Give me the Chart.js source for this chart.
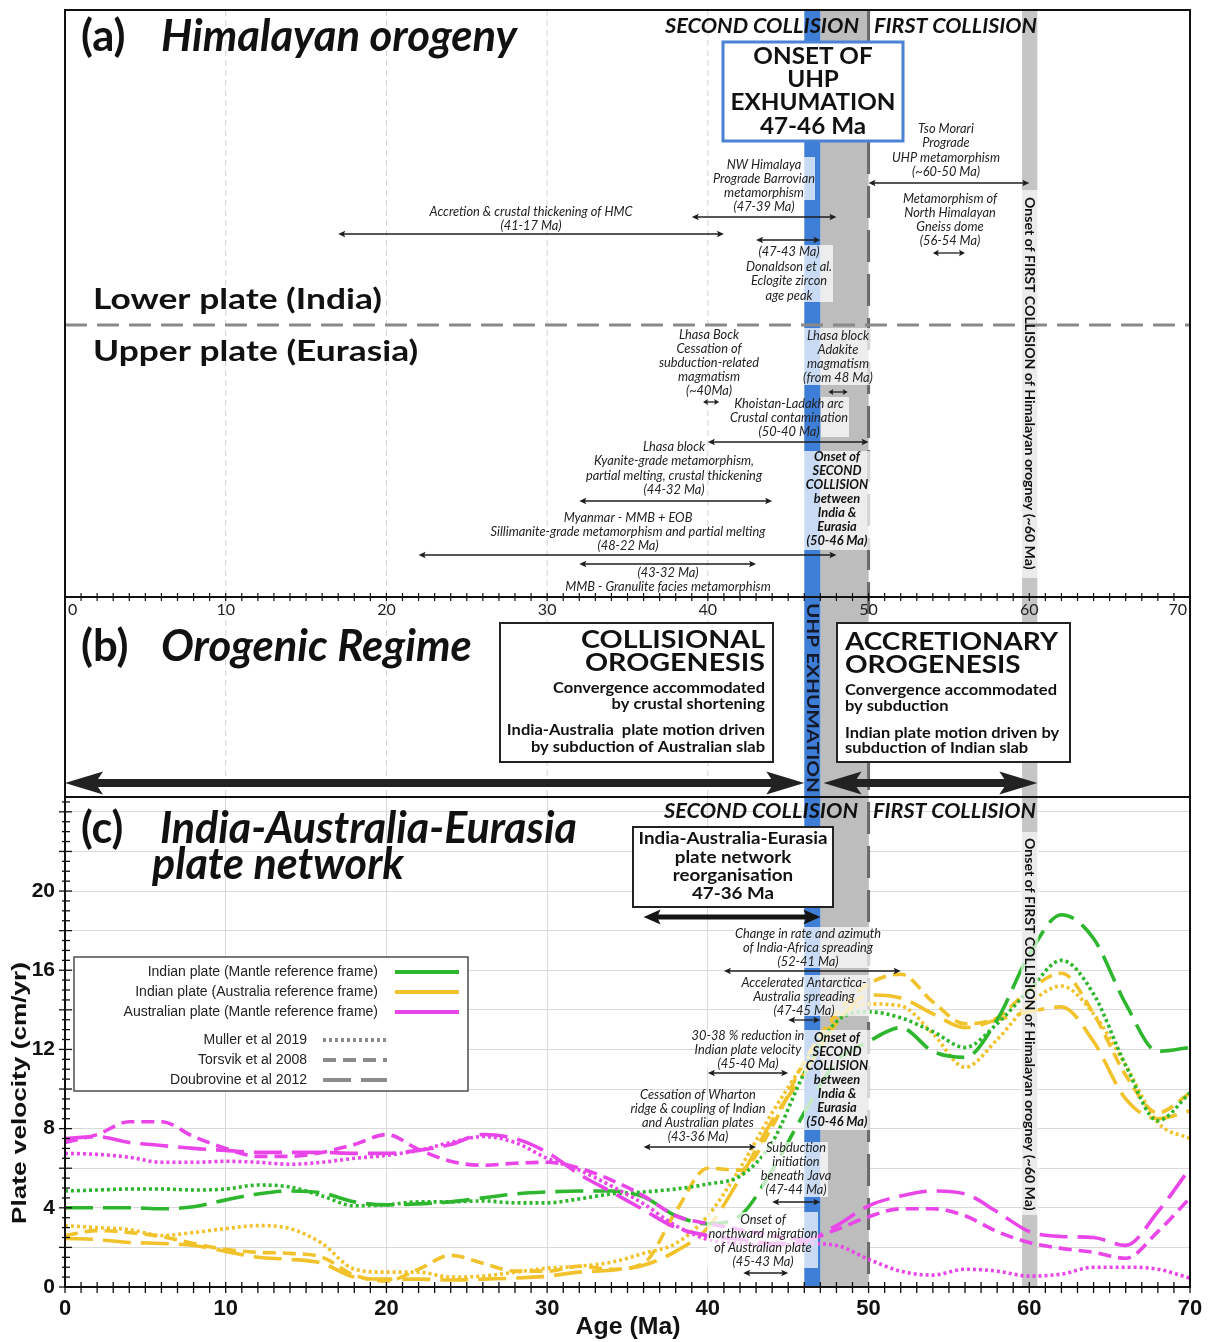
<!DOCTYPE html>
<html>
<head>
<meta charset="utf-8">
<title>Himalayan orogeny and India-Australia-Eurasia plate velocities</title>
<script src="https://cdn.jsdelivr.net/npm/chart.js@4.4.1/dist/chart.umd.min.js"></script>
<style>
  html, body { margin: 0; padding: 0; background: #fff; }
  canvas { display: block; }
</style>
</head>
<body>
<canvas id="fig" width="1212" height="1342"></canvas>
<script>
// Age grid (Ma) shared by every velocity curve
const ages = [0,2,4,6,8,10,12,14,16,18,20,22,24,26,28,30,32,34,36,38,40,42,44,46,48,50,52,54,56,58,60,62,64,66,68,70];

// Indian plate, mantle reference frame (cm/yr)
const indiaMantleMuller =     [4.85,4.9,4.95,4.95,4.9,4.95,5.15,5.05,4.6,4.1, 4.15,4.3,4.3,4.35,4.25,4.25,4.45,4.7,4.8,4.95, 5.2,5.6,7.3,10.8,13.4,13.9,13.6,12.9,12.1,13.3, 15.0,16.5,14.8,11.2,8.4,9.8];
const indiaMantleDoubrovine = [4.0,4.0,4.0,3.95,4.05,4.4,4.7,4.85,4.75,4.3, 4.15,4.2,4.3,4.5,4.7,4.8,4.85,4.85,4.55,3.6, 3.2,3.6,5.9,8.8,11.4,12.4,13.1,11.9,11.6,13.5, 16.8,18.8,17.6,14.3,11.9,12.1];

// Indian plate, Australia reference frame (cm/yr)
const indiaAustraliaMuller =     [3.1,3.0,2.9,2.6,2.75,2.95,3.1,2.95,2.2,0.9, 0.75,0.75,0.5,0.55,0.75,0.95,1.05,1.25,1.7,2.2, 3.6,6.0,8.8,11.3,13.5,14.3,14.2,12.8,11.1,12.5, 14.3,15.2,13.8,11.2,8.3,7.5];
const indiaAustraliaTorsvik =    [2.6,2.85,2.75,2.55,2.2,1.9,1.75,1.7,1.5,0.6, 0.3,0.9,1.6,1.2,0.8,0.8,1.05,0.9,1.2,3.8, 6.0,5.9,8.1,11.4,13.8,15.3,15.8,14.4,13.3,13.6, 15.0,15.85,13.8,10.7,8.8,9.8];
const indiaAustraliaDoubrovine = [2.45,2.4,2.25,2.2,2.1,1.8,1.5,1.4,1.2,0.5, 0.4,0.4,0.35,0.4,0.45,0.55,0.75,0.85,1.1,1.8, 3.0,5.5,8.4,10.8,13.3,14.75,14.6,13.8,13.1,13.5, 13.9,14.15,12.4,9.5,8.5,8.9];

// Australian plate, mantle reference frame (cm/yr)
const australiaMantleMuller =     [6.75,6.7,6.55,6.3,6.3,6.35,6.3,6.2,6.3,6.5, 6.65,6.9,7.3,7.6,7.3,6.5,5.9,5.1,4.2,3.1, 2.4,2.2,2.1,2.2,2.1,1.4,0.8,0.6,0.9,0.8, 0.55,0.65,1.0,1.0,0.9,0.45];
const australiaMantleTorsvik =    [7.3,7.7,8.35,8.35,7.6,7.0,6.6,6.6,6.8,7.2, 7.7,6.95,6.35,6.15,6.25,6.3,6.0,5.4,4.6,3.6, 3.2,2.9,2.6,2.4,2.9,3.55,3.95,3.95,3.6,2.8, 2.25,1.95,1.75,1.45,2.8,4.5];
const australiaMantleDoubrovine = [7.5,7.6,7.3,7.15,7.0,6.9,6.8,6.8,6.8,6.75, 6.75,6.9,7.2,7.7,7.5,6.8,5.7,4.8,3.9,3.0, 2.6,2.4,2.2,2.3,3.1,4.1,4.6,4.85,4.7,3.8, 2.8,2.55,2.5,2.1,3.8,6.0];

// Axis labels
const velocityTicks = [0,4,8,12,16,20];
const ageTicks = [0,10,20,30,40,50,60,70];

// Event age ranges (Ma)
const uhpExhumation = [46,47];
const secondCollision = [47,50];
const firstCollision = [59.55,60.5];

const GREEN = '#2fb62f', YELLOW = '#f1c22b', MAGENTA = '#e945e9', GREY_KEY = '#8c8c8c';
const DOT = [3,3], DASH = [13,7], LONGDASH = [28,10];
const SANS = '"Liberation Sans", Arial, sans-serif';
const HUMAN = 'Lato, "Open Sans", sans-serif';

function curve(label, values, color, dash) {
  return {
    label,
    data: ages.map((a, i) => ({ x: a, y: values[i] })),
    borderColor: color,
    borderDash: dash,
    borderWidth: 3.6,
    borderCapStyle: 'butt',
    pointRadius: 0,
    fill: false,
    cubicInterpolationMode: 'monotone'
  };
}

const datasets = [
  curve('Australian plate (Mantle) - Muller et al 2019', australiaMantleMuller, MAGENTA, DOT),
  curve('Australian plate (Mantle) - Torsvik et al 2008', australiaMantleTorsvik, MAGENTA, DASH),
  curve('Australian plate (Mantle) - Doubrovine et al 2012', australiaMantleDoubrovine, MAGENTA, LONGDASH),
  curve('Indian plate (Mantle) - Muller et al 2019', indiaMantleMuller, GREEN, DOT),
  curve('Indian plate (Mantle) - Doubrovine et al 2012', indiaMantleDoubrovine, GREEN, LONGDASH),
  curve('Indian plate (Australia) - Muller et al 2019', indiaAustraliaMuller, YELLOW, DOT),
  curve('Indian plate (Australia) - Torsvik et al 2008', indiaAustraliaTorsvik, YELLOW, DASH),
  curve('Indian plate (Australia) - Doubrovine et al 2012', indiaAustraliaDoubrovine, YELLOW, LONGDASH)
];

// ---------- drawing helpers ----------
function fitSize(ctx, s, width, style, family) {
  ctx.font = `${style} 100px ${family}`;
  return 100 * width / ctx.measureText(s).width;
}
// horizontal stretch that makes a string span a given width at a given size
function stretch(ctx, s, width, style, size, family = HUMAN) {
  ctx.font = `${style} ${size}px ${family}`;
  return width / ctx.measureText(s).width;
}
function text(ctx, s, x, y, o = {}) {
  const style = o.style || 'italic';
  const family = o.family || HUMAN;
  const size = o.size || 12;
  let sx = o.sx || 1;
  if (o.fit) sx = stretch(ctx, s, o.fit, style, size, family);
  ctx.save();
  ctx.font = `${style} ${size}px ${family}`;
  ctx.fillStyle = o.color || '#1e1e1e';
  ctx.textAlign = o.align || 'center';
  ctx.textBaseline = 'middle';
  ctx.translate(x, y);
  if (o.rotate) ctx.rotate(o.rotate);
  ctx.scale(sx, 1);
  ctx.fillText(s, 0, 0);
  ctx.restore();
}
function block(ctx, lines, x, y0, lh, o = {}) {
  lines.forEach((s, i) => text(ctx, s, x, y0 + i * lh, o));
}
function arrow(ctx, x0, x1, y, o = {}) {
  const w = o.w || 1.3, head = o.head || 7, half = o.half || 3.2, col = o.color || '#1e1e1e';
  ctx.save();
  ctx.strokeStyle = col; ctx.fillStyle = col; ctx.lineWidth = w; ctx.setLineDash([]);
  ctx.beginPath(); ctx.moveTo(x0 + head * 0.6, y); ctx.lineTo(x1 - head * 0.6, y); ctx.stroke();
  ctx.beginPath();
  ctx.moveTo(x0, y); ctx.lineTo(x0 + head, y - half); ctx.lineTo(x0 + head * 0.8, y); ctx.lineTo(x0 + head, y + half); ctx.closePath();
  ctx.moveTo(x1, y); ctx.lineTo(x1 - head, y - half); ctx.lineTo(x1 - head * 0.8, y); ctx.lineTo(x1 - head, y + half); ctx.closePath();
  ctx.fill();
  ctx.restore();
}
function veil(ctx, x0, y0, x1, y1, a = 0.72) {
  ctx.save(); ctx.fillStyle = `rgba(255,255,255,${a})`; ctx.fillRect(x0, y0, x1 - x0, y1 - y0); ctx.restore();
}
function box(ctx, x0, y0, x1, y1, stroke, lw) {
  ctx.save();
  ctx.fillStyle = '#fff'; ctx.fillRect(x0, y0, x1 - x0, y1 - y0);
  ctx.strokeStyle = stroke; ctx.lineWidth = lw; ctx.setLineDash([]);
  ctx.strokeRect(x0, y0, x1 - x0, y1 - y0);
  ctx.restore();
}

const TOP = 10, AXIS_A = 597, SEP_BC = 797;

const figurePlugin = {
  id: 'figure',
  beforeDatasetsDraw(chart) {
    const ctx = chart.ctx, xs = chart.scales.x, X = v => xs.getPixelForValue(v);
    const bot = chart.chartArea.bottom;
    ctx.save();
    // faint dashed age guides in panels (a) and (b)
    ctx.strokeStyle = '#d2d2d2'; ctx.lineWidth = 1; ctx.setLineDash([6, 4]);
    [10, 20, 30, 40].forEach(a => {
      ctx.beginPath(); ctx.moveTo(X(a), TOP); ctx.lineTo(X(a), SEP_BC); ctx.stroke();
    });
    ctx.setLineDash([]);
    // event bands through all panels
    ctx.fillStyle = '#bdbdbd';
    ctx.fillRect(X(secondCollision[0]), TOP, X(secondCollision[1]) - X(secondCollision[0]), bot - TOP);
    ctx.fillStyle = '#c5c5c5';
    ctx.fillRect(X(firstCollision[0]), TOP, X(firstCollision[1]) - X(firstCollision[0]), bot - TOP);
    ctx.fillStyle = '#3f7ed6';
    ctx.fillRect(X(uhpExhumation[0]), TOP, X(uhpExhumation[1]) - X(uhpExhumation[0]), bot - TOP);
    // dashed marker at 50 Ma
    ctx.strokeStyle = '#6a6a6a'; ctx.lineWidth = 3; ctx.setLineDash([32, 12]);
    ctx.beginPath(); ctx.moveTo(X(50), TOP); ctx.lineTo(X(50), bot); ctx.stroke();
    ctx.restore();
  },
  afterDatasetsDraw(chart) {
    const ctx = chart.ctx, xs = chart.scales.x, ys = chart.scales.y;
    const X = v => xs.getPixelForValue(v);
    const L = chart.chartArea.left, R = chart.chartArea.right, B = chart.chartArea.bottom;

    // ---------- text backdrops ----------
    [[713,157,815,200],[743,245,833,302],[803,328,870,385],[821,397,849,437],[804,451,870,550],
     [733,927,870,968],[760,975,870,1016],[700,1029,804,1068],[804,1030,870,1130],
     [762,1142,828,1197],[707,1212,818,1268]].forEach(r => veil(ctx, ...r));
    veil(ctx, X(firstCollision[0]) - 1, 190, X(firstCollision[1]) + 1, 578, 0.65);
    veil(ctx, X(firstCollision[0]) - 1, 832, X(firstCollision[1]) + 1, 1215, 0.65);

    // ---------- panel (a) ----------
    const titleSize = fitSize(ctx, 'Himalayan orogeny', 356, 'italic bold', HUMAN);
    text(ctx, '(a)', 81, 37, { style: 'bold', size: titleSize, align: 'left', color: '#111' });
    text(ctx, 'Himalayan orogeny', 161, 37, { style: 'italic bold', size: titleSize, align: 'left', color: '#111' });

    const hdr = { style: 'italic bold', size: 20, align: 'left', color: '#111' };
    text(ctx, 'SECOND COLLISION', 665, 27, { ...hdr, fit: 194 });
    text(ctx, 'FIRST COLLISION', 874, 27, { ...hdr, fit: 163 });

    box(ctx, 723, 42, 903, 141, '#4a82d4', 3);
    const uhpSx = stretch(ctx, 'EXHUMATION', 165, 'bold', 22);
    const uhpFont = { style: 'bold', size: 22, sx: uhpSx, color: '#111' };
    block(ctx, ['ONSET OF', 'UHP', 'EXHUMATION'], 813, 57, 23, uhpFont);
    text(ctx, '47-46 Ma', 813, 127, uhpFont);

    const note = { style: 'italic', size: 12.8, color: '#222' };
    block(ctx, ['Tso Morari', 'Prograde', 'UHP metamorphism', '(~60-50 Ma)'], 946, 129, 14.3, note);
    arrow(ctx, X(50), X(60), 183);
    block(ctx, ['NW Himalaya', 'Prograde Barrovian', 'metamorphism', '(47-39 Ma)'], 764, 165, 14, note);
    arrow(ctx, X(39), X(48), 217);
    block(ctx, ['Accretion & crustal thickening of HMC', '(41-17 Ma)'], 531, 212, 14, note);
    arrow(ctx, X(17), X(41), 234);
    arrow(ctx, X(43), X(47), 240);
    block(ctx, ['(47-43 Ma)', 'Donaldson et al.', 'Eclogite zircon', 'age peak'], 789, 252, 14.5, note);
    block(ctx, ['Metamorphism of', 'North Himalayan', 'Gneiss dome', '(56-54 Ma)'], 950, 199, 14, note);
    arrow(ctx, X(54), X(56), 253, { head: 6 });

    const plateSx = stretch(ctx, 'Lower plate (India)', 289, 'bold', 29);
    text(ctx, 'Lower plate (India)', 93, 300, { style: 'bold', size: 29, sx: plateSx, align: 'left', color: '#111' });
    text(ctx, 'Upper plate (Eurasia)', 93, 352, { style: 'bold', size: 29, sx: plateSx, align: 'left', color: '#111' });
    ctx.save();
    ctx.strokeStyle = '#8a8a8a'; ctx.lineWidth = 3; ctx.setLineDash([22, 10]);
    ctx.beginPath(); ctx.moveTo(L, 325); ctx.lineTo(R, 325); ctx.stroke();
    ctx.restore();

    block(ctx, ['Lhasa Bock', 'Cessation of', 'subduction-related', 'magmatism', '(~40Ma)'], 709, 335, 14, note);
    arrow(ctx, X(39.7), X(40.7), 402, { head: 5, half: 3 });
    block(ctx, ['Lhasa block', 'Adakite', 'magmatism', '(from 48 Ma)'], 838, 336, 14, note);
    arrow(ctx, X(47.5), X(48.7), 392, { head: 5, half: 3 });
    block(ctx, ['Khoistan-Ladakh arc', 'Crustal contamination', '(50-40 Ma)'], 789, 404, 14, note);
    arrow(ctx, X(40), X(50), 442);
    block(ctx, ['Lhasa block', 'Kyanite-grade metamorphism,', 'partial melting, crustal thickening', '(44-32 Ma)'], 674, 447, 14.3, note);
    arrow(ctx, X(32), X(44), 501);
    block(ctx, ['Myanmar - MMB + EOB', 'Sillimanite-grade metamorphism and partial melting', '(48-22 Ma)'], 628, 518, 14, note);
    arrow(ctx, X(22), X(48), 555);
    arrow(ctx, X(32), X(43), 564);
    block(ctx, ['(43-32 Ma)', 'MMB - Granulite facies metamorphism'], 668, 573, 14, note);

    const onset = { style: 'italic bold', size: 12.8, color: '#111' };
    const onsetLines = ['Onset of', 'SECOND', 'COLLISION', 'between', 'India &', 'Eurasia', '(50-46 Ma)'];
    block(ctx, onsetLines, 837, 457, 14, onset);

    const vert = { style: 'bold', size: 13, align: 'left', color: '#111', rotate: Math.PI / 2 };
    const first60 = 'Onset of FIRST COLLISION of Himalayan orogney (~60 Ma)';
    const vSize = fitSize(ctx, first60, 373, 'bold', HUMAN);
    text(ctx, first60, (X(firstCollision[0]) + X(firstCollision[1])) / 2, 197, { ...vert, size: vSize });

    // axis of panel (a)
    ctx.save();
    ctx.strokeStyle = '#111'; ctx.lineWidth = 1.2; ctx.setLineDash([]);
    for (let a = 0; a <= 70; a++) {
      ctx.beginPath(); ctx.moveTo(X(a), AXIS_A - 4); ctx.lineTo(X(a), AXIS_A + 4); ctx.stroke();
    }
    ctx.restore();
    ageTicks.forEach(a => {
      const align = a === 0 ? 'left' : (a === 70 ? 'right' : 'center');
      const x = a === 0 ? X(a) + 3 : (a === 70 ? X(a) - 3 : X(a));
      text(ctx, String(a), x, 610, { style: 'normal', size: 16, align, color: '#222' });
    });

    // ---------- panel (b) ----------
    text(ctx, '(b)', 81, 647, { style: 'bold', size: titleSize, align: 'left', color: '#111' });
    text(ctx, 'Orogenic Regime', 161, 647, { style: 'italic bold', size: titleSize, align: 'left', color: '#111' });

    box(ctx, 500, 623, 773, 762, '#222', 2);
    const colSx = stretch(ctx, 'COLLISIONAL', 184, 'bold', 24);
    text(ctx, 'COLLISIONAL', 765, 640, { style: 'bold', size: 24, sx: colSx, align: 'right', color: '#111' });
    text(ctx, 'OROGENESIS', 765, 663, { style: 'bold', size: 24, sx: colSx, align: 'right', color: '#111' });
    const subSx = stretch(ctx, 'Convergence accommodated', 212, 'bold', 14.5);
    const sub = { style: 'bold', size: 14.5, sx: subSx, align: 'right', color: '#111' };
    text(ctx, 'Convergence accommodated', 765, 688, sub);
    text(ctx, 'by crustal shortening', 765, 704, sub);
    text(ctx, 'India-Australia  plate motion driven', 765, 730, sub);
    text(ctx, 'by subduction of Australian slab', 765, 747, sub);

    box(ctx, 837, 623, 1070, 762, '#222', 2);
    const accSx = stretch(ctx, 'ACCRETIONARY', 213, 'bold', 24);
    text(ctx, 'ACCRETIONARY', 845, 642, { style: 'bold', size: 24, sx: accSx, align: 'left', color: '#111' });
    text(ctx, 'OROGENESIS', 845, 665, { style: 'bold', size: 24, sx: accSx, align: 'left', color: '#111' });
    const sub2 = { ...sub, align: 'left' };
    text(ctx, 'Convergence accommodated', 845, 690, sub2);
    text(ctx, 'by subduction', 845, 706, sub2);
    text(ctx, 'Indian plate motion driven by', 845, 733, sub2);
    text(ctx, 'subduction of Indian slab', 845, 748, sub2);

    const bigArrow = { w: 8, head: 38, half: 11.5, color: '#222' };
    arrow(ctx, X(0), X(46), 783, bigArrow);
    arrow(ctx, X(47.2), X(60.5), 783, bigArrow);

    text(ctx, 'UHP EXHUMATION', (X(46) + X(47)) / 2, 603, { ...vert, size: 17, fit: 190, color: '#151a2a' });

    // ---------- panel (c) ----------
    const cSize = fitSize(ctx, 'India-Australia-Eurasia', 417, 'italic bold', HUMAN);
    text(ctx, '(c)', 81, 829, { style: 'bold', size: cSize, align: 'left', color: '#111' });
    text(ctx, 'India-Australia-Eurasia', 160, 829, { style: 'italic bold', size: cSize, align: 'left', color: '#111' });
    text(ctx, 'plate network', 152, 865, { style: 'italic bold', size: cSize, align: 'left', color: '#111' });

    text(ctx, 'SECOND COLLISION', 664, 812, { ...hdr, fit: 194 });
    text(ctx, 'FIRST COLLISION', 873, 812, { ...hdr, fit: 163 });

    box(ctx, 633, 827, 833, 907, '#222', 2);
    const reSx = stretch(ctx, 'India-Australia-Eurasia', 189, 'bold', 17);
    block(ctx, ['India-Australia-Eurasia', 'plate network', 'reorganisation', '47-36 Ma'], 733, 839, 18.3, { style: 'bold', size: 17, sx: reSx, color: '#111' });
    arrow(ctx, X(36), X(47), 917, { w: 5, head: 17, half: 7.5, color: '#151515' });

    block(ctx, ['Change in rate and azimuth', 'of India-Africa spreading', '(52-41 Ma)'], 808, 934, 14, note);
    arrow(ctx, X(41), X(52), 971);
    block(ctx, ['Accelerated Antarctica-', 'Australia spreading', '(47-45 Ma)'], 804, 983, 14, note);
    arrow(ctx, X(45), X(47), 1020);
    block(ctx, ['30-38 % reduction in', 'Indian plate velocity', '(45-40 Ma)'], 748, 1036, 13.7, note);
    arrow(ctx, X(40), X(45), 1073);
    block(ctx, onsetLines, 837, 1038, 14, onset);
    block(ctx, ['Cessation of Wharton', 'ridge & coupling of Indian', 'and Australian plates', '(43-36 Ma)'], 698, 1095, 13.8, note);
    arrow(ctx, X(36), X(43), 1147);
    block(ctx, ['Subduction', 'initiation', 'beneath Java', '(47-44 Ma)'], 796, 1148, 14, note);
    arrow(ctx, X(44), X(47), 1202);
    block(ctx, ['Onset of', 'northward migration', 'of Australian plate', '(45-43 Ma)'], 763, 1220, 14, note);
    arrow(ctx, X(42.2), X(45), 1273);

    text(ctx, first60, (X(firstCollision[0]) + X(firstCollision[1])) / 2, 838, { ...vert, size: vSize });

    // legend
    box(ctx, 74, 957, 468, 1091, '#333', 1.3);
    const keyFont = { style: 'normal', family: SANS, size: 14, align: 'right', color: '#222' };
    [['Indian plate (Mantle reference frame)', GREEN], ['Indian plate (Australia reference frame)', YELLOW], ['Australian plate (Mantle reference frame)', MAGENTA]]
      .forEach(([s, c], i) => {
        const y = 972 + i * 20;
        text(ctx, s, 378, y, keyFont);
        ctx.save(); ctx.strokeStyle = c; ctx.lineWidth = 4; ctx.setLineDash([]);
        ctx.beginPath(); ctx.moveTo(395, y); ctx.lineTo(459, y); ctx.stroke(); ctx.restore();
      });
    [['Muller et al 2019', DOT], ['Torsvik et al 2008', DASH], ['Doubrovine et al 2012', LONGDASH]]
      .forEach(([s, d], i) => {
        const y = 1040 + i * 20;
        text(ctx, s, 307, y, keyFont);
        ctx.save(); ctx.strokeStyle = GREY_KEY; ctx.lineWidth = 4; ctx.setLineDash(d);
        ctx.beginPath(); ctx.moveTo(323, y); ctx.lineTo(387, y); ctx.stroke(); ctx.restore();
      });

    // axis ticks of panel (c)
    ctx.save();
    ctx.strokeStyle = '#111'; ctx.lineWidth = 1.3; ctx.setLineDash([]);
    for (let a = 0; a <= 70; a++) {
      ctx.beginPath(); ctx.moveTo(X(a), B - 5); ctx.lineTo(X(a), B + 6); ctx.stroke();
    }
    for (let v = 0; v <= 24.5; v += 0.5) {
      const y = ys.getPixelForValue(v);
      const major = v % 2 === 0;
      ctx.beginPath(); ctx.moveTo(L - (major ? 6 : 3), y); ctx.lineTo(L + (major ? 7 : 5), y); ctx.stroke();
    }
    ctx.restore();

    text(ctx, 'Plate velocity (cm/yr)', 20, 1093, { style: 'bold', family: SANS, size: 20, fit: 262, color: '#111', rotate: -Math.PI / 2 });
    text(ctx, 'Age (Ma)', 628, 1328, { style: 'bold', family: SANS, size: 23, fit: 105, color: '#111' });

    // frame and panel separators
    ctx.save();
    ctx.strokeStyle = '#111'; ctx.lineWidth = 2; ctx.setLineDash([]);
    ctx.strokeRect(L, TOP, R - L, B - TOP);
    ctx.beginPath(); ctx.moveTo(L, AXIS_A); ctx.lineTo(R, AXIS_A); ctx.stroke();
    ctx.beginPath(); ctx.moveTo(L, SEP_BC); ctx.lineTo(R, SEP_BC); ctx.stroke();
    ctx.restore();
  }
};

new Chart(document.getElementById('fig'), {
  type: 'line',
  data: { datasets },
  options: {
    responsive: false,
    animation: false,
    devicePixelRatio: 1,
    layout: { padding: { top: SEP_BC, right: 22, left: 0, bottom: 0 } },
    plugins: { legend: { display: false }, tooltip: { enabled: false } },
    scales: {
      x: {
        type: 'linear', min: 0, max: 70,
        afterFit(s) { s.height = 55; },
        afterBuildTicks(s) { s.ticks = ageTicks.map(v => ({ value: v })); },
        ticks: { autoSkip: false, maxRotation: 0, padding: 9, color: '#111',
                 font: { family: SANS, weight: 'bold', size: 22 } },
        grid: { color: '#d9d9d9', lineWidth: 1, drawTicks: false },
        border: { display: true, color: '#111', width: 2 }
      },
      y: {
        min: 0, max: 24.75,
        afterFit(s) { s.width = 65; },
        afterBuildTicks(s) {
          const t = [];
          for (let v = 0; v <= 24; v += 2) t.push({ value: v });
          s.ticks = t;
        },
        ticks: { autoSkip: false, padding: 10, color: '#111',
                 callback: v => velocityTicks.includes(v) ? String(v) : '',
                 font: { family: SANS, weight: 'bold', size: 21 } },
        grid: { color: '#d9d9d9', lineWidth: 1, drawTicks: false },
        border: { display: true, color: '#111', width: 2 }
      }
    }
  },
  plugins: [figurePlugin]
});
</script>
</body>
</html>
